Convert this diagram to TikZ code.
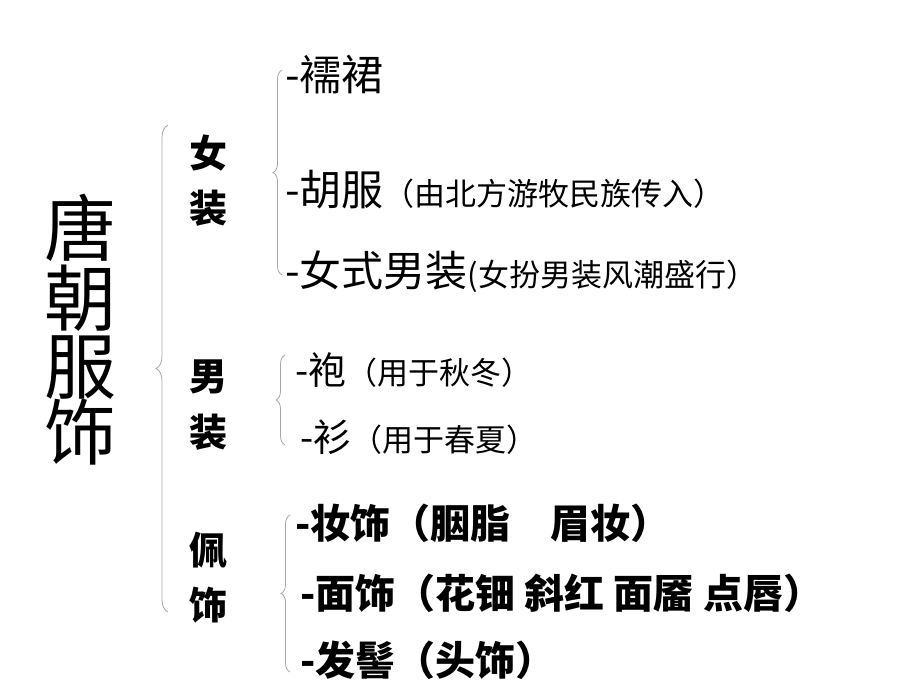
\documentclass[tikz,border=0pt]{standalone}
\usepackage{fontspec}
\setmainfont{Noto Sans CJK SC}
\usetikzlibrary{decorations.pathreplacing}
\begin{document}
\begin{tikzpicture}[x=1pt,y=-1pt,
  br/.style={draw=gray!70,line width=0.8pt,decorate,decoration={brace,amplitude=9pt,mirror}},
  it/.style={anchor=west,inner sep=0pt,font=\fontsize{42}{44}\selectfont},
  bt/.style={it,font=\fontsize{40}{42}\selectfont\bfseries},
  cat/.style={inner sep=0pt,font=\fontsize{38}{40}\selectfont\bfseries},
  ttl/.style={inner sep=0pt,font=\fontsize{72}{74}\selectfont}]
\useasboundingbox (0,0) rectangle (920,690);
\node[ttl] (t1) at (80,228) {唐};
\node[ttl] (t2) at (80,298) {朝};
\node[ttl] (t3) at (80,368) {服};
\node[ttl] (t4) at (80,432) {饰};
\coordinate (b1a) at (168,125); \coordinate (b1b) at (168,612);
\draw[br,decoration={amplitude=12pt}] (b1a) -- (b1b);
\node[cat] (n1) at (208,153) {女};
\node[cat] (n2) at (208,208) {装};
\node[cat] (m1) at (208,377) {男};
\node[cat] (m2) at (208,432) {装};
\node[cat] (p1) at (208,550) {佩};
\node[cat] (p2) at (208,605) {饰};
\coordinate (b2a) at (282,70); \coordinate (b2b) at (282,275);
\draw[br] (b2a) -- (b2b);
\coordinate (b3a) at (285,355); \coordinate (b3b) at (285,445);
\draw[br] (b3a) -- (b3b);
\coordinate (b4a) at (290,515); \coordinate (b4b) at (290,672);
\draw[br] (b4a) -- (b4b);
\node[it] (a1) at (285,75) {-襦裙};
\node[it] (a2) at (285,190) {-胡服{\fontsize{31}{33}\selectfont（由北方游牧民族传入）}};
\node[it] (a3) at (285,272) {-女式男装{\fontsize{31}{33}\selectfont(女扮男装风潮盛行）}};
\node[it,font=\fontsize{38}{40}\selectfont] (c1) at (295,370) {-袍{\fontsize{31}{33}\selectfont（用于秋冬）}};
\node[it,font=\fontsize{38}{40}\selectfont] (c2) at (300,437) {-衫{\fontsize{31}{33}\selectfont（用于春夏）}};
\node[bt] (d1) at (295,523) {-妆饰（胭脂　眉妆）};
\node[bt] (d2) at (300,593) {-面饰（花钿 斜红 面靥 点唇）};
\node[bt] (d3) at (300,660) {-发髻（头饰）};
\end{tikzpicture}
\end{document}
